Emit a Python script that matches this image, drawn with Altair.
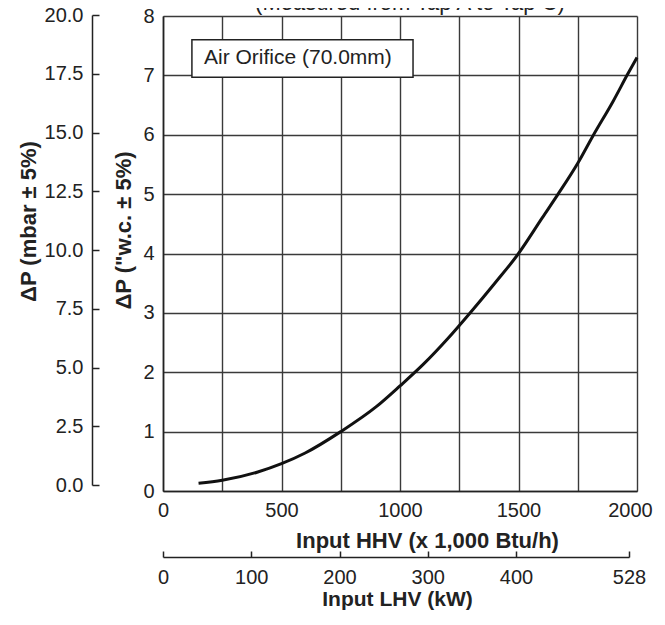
import altair as alt
import pandas as pd

# ---- data ----
hhv = [150, 250, 400, 500, 600, 750, 900, 1000, 1100, 1200, 1300,
       1400, 1500, 1600, 1667, 1750, 1814, 1900, 1962, 2000]
wc = [0.13, 0.18, 0.32, 0.46, 0.64, 1.0, 1.42, 1.77, 2.14, 2.56, 3.02,
      3.5, 4.0, 4.6, 5.0, 5.52, 5.98, 6.57, 7.03, 7.3]

hhv_grid = [0, 250, 500, 750, 1000, 1250, 1500, 1750, 2000]
wc_ticks = [0, 1, 2, 3, 4, 5, 6, 7, 8]
mbar_ticks = [0.0, 2.5, 5.0, 7.5, 10.0, 12.5, 15.0, 17.5, 20.0]
lhv_ticks = [0, 100, 200, 300, 400, 528]

label_text = ["Air Orifice (70.0mm)"]
label_box_hhv = [122, 1055]
label_box_wc = [6.97, 7.6]
top_note = ["(Measured from Tap A to Tap C)"]

FONT = "Liberation Sans"
INK = "#222222"
GRID = "#3a3a3a"

curve_df = pd.DataFrame({"hhv": hhv, "wc": wc})
box_df = pd.DataFrame({"hhv": [label_box_hhv[0]], "hhv2": [label_box_hhv[1]],
                       "wc": [label_box_wc[0]], "wc2": [label_box_wc[1]]})
lbl_df = pd.DataFrame({"hhv": [173], "wc": [7.285], "t": label_text})
note_df = pd.DataFrame({"t": top_note})
mbar_df = pd.DataFrame({"mbar": mbar_ticks})
lhv_df = pd.DataFrame({"lhv": lhv_ticks})

X_TITLE = "Input HHV (x 1,000 Btu/h)"
Y_TITLE = 'ΔP ("w.c. ± 5%)'

W, H = 474, 475

hhv_scale = alt.Scale(domain=[0, 2000], nice=False, zero=False)
wc_scale = alt.Scale(domain=[0, 8], nice=False, zero=False)

x_axis = alt.Axis(orient="bottom", values=hhv_grid, format="d",
                  labelExpr="datum.value % 500 == 0 ? datum.label : ''",
                  labelOffset={"condition": {"test": "datum.value == 2000", "value": -7}, "value": 0},
                  grid=True, gridColor=GRID, gridWidth=1.4, gridOpacity=1,
                  ticks=False, tickSize=0, domainColor=INK, domainWidth=1.6,
                  labelPadding=9, labelFontSize=20, labelFlush=False, title=X_TITLE,
                  titleFontSize=22, titleFontWeight="bold",
                  titleX=264, titleY=49, titleBaseline="middle", titleAlign="center")
y_axis = alt.Axis(orient="left", values=wc_ticks, format="d",
                  grid=True, gridColor=GRID, gridWidth=1.4, gridOpacity=1,
                  ticks=False, tickSize=0, domainColor=INK, domainWidth=1.6,
                  labelPadding=9, labelFontSize=20, labelFlush=False, title=Y_TITLE,
                  titleFontSize=22, titleFontWeight="bold", titleAngle=-90,
                  titleX=-40, titleY=214, titleBaseline="middle", titleAlign="center")

curve = alt.Chart(curve_df).mark_line(color="#111111", strokeWidth=3,
                                      interpolate="monotone").encode(
    x=alt.X("hhv:Q", scale=hhv_scale, axis=x_axis, title=X_TITLE),
    y=alt.Y("wc:Q", scale=wc_scale, axis=y_axis, title=Y_TITLE),
)

box = alt.Chart(box_df).mark_rect(fill="white", stroke=INK, strokeWidth=1.5).encode(
    x=alt.X("hhv:Q", title=X_TITLE), x2="hhv2:Q",
    y=alt.Y("wc:Q", title=Y_TITLE), y2="wc2:Q",
)
box_text = alt.Chart(lbl_df).mark_text(align="left", baseline="middle", font=FONT,
                                       fontSize=21, color=INK).encode(
    x=alt.X("hhv:Q", title=X_TITLE), y=alt.Y("wc:Q", title=Y_TITLE), text="t:N")

note = alt.Chart(note_df).mark_text(align="center", baseline="alphabetic", font=FONT,
                                    fontSize=22, color=INK).encode(
    x=alt.value(247), y=alt.value(-6), text="t:N")

inner = alt.layer(curve, box, box_text, note)

mbar_scale = alt.Scale(domain=[0, 20], range=[469, -1], nice=False, zero=False)
lhv_scale = alt.Scale(domain=[0, 528], range=[0, 466], nice=False, zero=False)

# mbar axis: labels + title on the left
mbar_lab = alt.Chart(mbar_df).mark_point(opacity=0).encode(
    x=alt.value(0),
    y=alt.Y("mbar:Q", scale=mbar_scale,
            axis=alt.Axis(orient="left", offset=71, values=mbar_ticks, format=".1f",
                          domain=False, ticks=False, tickSize=0, grid=False,
                          labelPadding=9, labelFontSize=20, labelFlush=False,
                          title="ΔP (mbar ± 5%)", titleFontSize=22, titleFontWeight="bold",
                          titleAngle=-90, titleX=-64, titleY=205,
                          titleBaseline="middle", titleAlign="center")),
)
# mbar axis: line + inward ticks
mbar_tick = alt.Chart(mbar_df).mark_point(opacity=0).encode(
    x=alt.value(0),
    y=alt.Y("mbar:Q", scale=mbar_scale,
            axis=alt.Axis(orient="right", offset=-(W + 71), values=mbar_ticks,
                          labels=False, domain=True, domainColor=INK, domainWidth=1.5,
                          ticks=True, tickSize=7, tickColor=INK, tickWidth=1.5,
                          grid=False, title=None)),
)
# LHV axis: labels + title
lhv_lab = alt.Chart(lhv_df).mark_point(opacity=0).encode(
    y=alt.value(0),
    x=alt.X("lhv:Q", scale=lhv_scale,
            axis=alt.Axis(orient="bottom", offset=66, values=lhv_ticks, format="d",
                          domain=False, ticks=False, tickSize=0, grid=False,
                          labelPadding=10, labelFontSize=20, labelFlush=False,
                          title="Input LHV (kW)", titleFontSize=21, titleFontWeight="bold",
                          titleX=234, titleY=42, titleBaseline="middle", titleAlign="center")),
)
# LHV axis: line + upward ticks
lhv_tick = alt.Chart(lhv_df).mark_point(opacity=0).encode(
    y=alt.value(0),
    x=alt.X("lhv:Q", scale=lhv_scale,
            axis=alt.Axis(orient="top", offset=-(H + 66), values=lhv_ticks,
                          labels=False, domain=True, domainColor=INK, domainWidth=1.5,
                          ticks=True, tickSize=6, tickColor=INK, tickWidth=1.5,
                          grid=False, title=None)),
)

chart = alt.layer(inner, mbar_lab, mbar_tick, lhv_lab, lhv_tick).resolve_scale(
    x="independent", y="independent"
).properties(
    width=W, height=H,
    padding={"left": 155, "top": 8, "right": 20, "bottom": 120},
    autosize=alt.AutoSizeParams(type="none"),
    background="white",
).configure_view(stroke=None).configure_axis(
    labelFont=FONT, titleFont=FONT, labelColor=INK, titleColor=INK, labelFlush=False
)

chart.save("out.html", embed_options={"renderer": "svg", "actions": False})
